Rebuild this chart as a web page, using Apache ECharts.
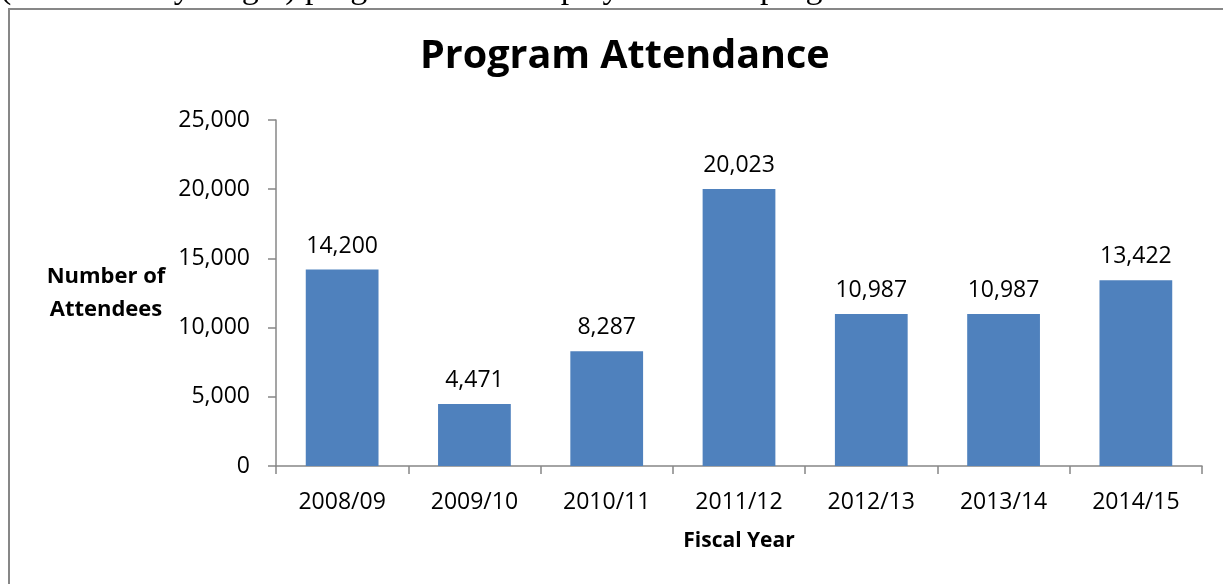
<!DOCTYPE html>
<html>
<head>
<meta charset="utf-8">
<script src="https://cdn.jsdelivr.net/npm/echarts@6/dist/echarts.min.js"></script>
<style>
  html, body { margin: 0; padding: 0; background: #ffffff; }
  #chart { width: 1223px; height: 584px; }
</style>
</head>
<body>
<div id="chart"></div>
<script>
// fiscal years and attendance
const fiscalYears = ['2008/09', '2009/10', '2010/11', '2011/12', '2012/13', '2013/14', '2014/15'];
const attendees = [14200, 4471, 8287, 20023, 10987, 10987, 13422];
const yMin = 0;
const yMax = 25000;
const yStep = 5000;

const font = '"Open Sans", sans-serif';
const fmt = v => Number(v).toLocaleString('en-US');

const chart = echarts.init(document.getElementById('chart'));
chart.setOption({
    backgroundColor: '#ffffff',
    animation: false,
    title: {
        text: 'Program Attendance',
        left: 415,
        top: 32,
        textStyle: { fontFamily: font, fontSize: 39.5, fontWeight: 'bold', color: '#000000' }
    },
    // border of the chart box and the cut-off paragraph above it
    graphic: [
        {
            type: 'text',
            z: 100,
            style: {
                x: 0,
                y: 6,
                verticalAlign: 'bottom',
                text: '(toddler and younger) program. Chart displays the total program attendance.',
                fontFamily: '"Liberation Serif", serif',
                fontSize: 34,
                fill: '#000000'
            }
        },
        {
            type: 'rect',
            z: 100,
            shape: { x: 9, y: 9, width: 1400, height: 800 },
            style: { fill: 'none', stroke: '#878787', lineWidth: 2 }
        }
    ],
    grid: { left: 276, right: 21, top: 120, bottom: 118 },
    xAxis: {
        type: 'category',
        data: fiscalYears,
        name: 'Fiscal Year',
        nameLocation: 'middle',
        nameGap: 75,
        nameTextStyle: { fontFamily: font, fontSize: 21, fontWeight: 'bold', color: '#000000', verticalAlign: 'middle' },
        axisLine: { lineStyle: { color: '#878787', width: 1.5 } },
        axisTick: { show: true, length: 8, lineStyle: { color: '#878787', width: 1.5 } },
        axisLabel: { fontFamily: font, fontSize: 23, color: '#000000', margin: 25 }
    },
    yAxis: {
        type: 'value',
        min: yMin,
        max: yMax,
        interval: yStep,
        name: 'Number of\nAttendees',
        nameLocation: 'middle',
        nameRotate: 0,
        nameGap: 170,
        nameTextStyle: { fontFamily: font, fontSize: 22, fontWeight: 'bold', color: '#000000', align: 'center', verticalAlign: 'middle', lineHeight: 33 },
        axisLine: { show: true, lineStyle: { color: '#878787', width: 1.5 } },
        axisTick: { show: true, length: 8, lineStyle: { color: '#878787', width: 1.5 } },
        splitLine: { show: false },
        axisLabel: { fontFamily: font, fontSize: 23, color: '#000000', margin: 26, formatter: fmt }
    },
    series: [
        {
            type: 'bar',
            data: attendees,
            barCategoryGap: '45%',
            itemStyle: { color: '#4f81bd' },
            label: {
                show: true,
                position: 'top',
                distance: 12,
                fontFamily: font,
                fontSize: 23,
                color: '#000000',
                formatter: p => fmt(p.value)
            }
        }
    ]
});
</script>
</body>
</html>
